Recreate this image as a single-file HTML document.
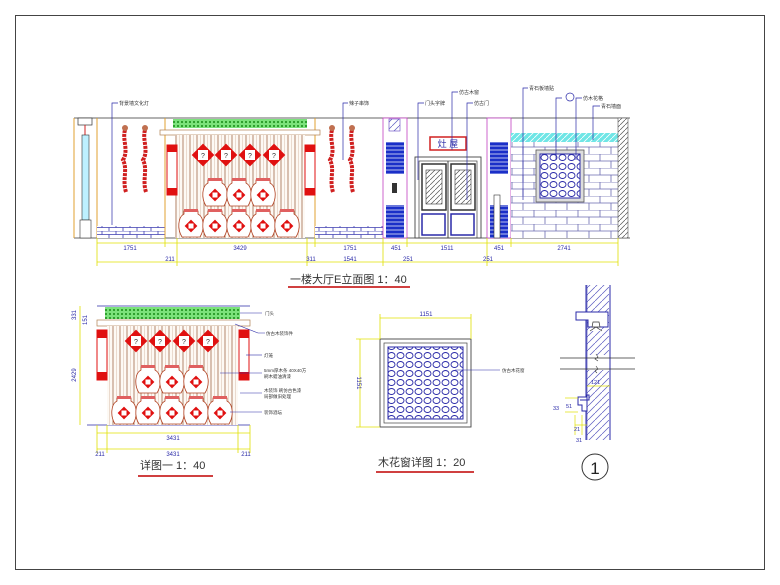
<!DOCTYPE html>
<html><head><meta charset="utf-8"><style>
html,body{margin:0;padding:0;background:#fff}
svg{display:block}
text{font-family:"Liberation Sans","Noto Sans CJK SC",sans-serif}
</style></head><body>
<svg width="780" height="585" viewBox="0 0 780 585" xmlns="http://www.w3.org/2000/svg">
<defs>
<pattern id="brick" width="14" height="7" patternUnits="userSpaceOnUse">
<rect width="14" height="7" fill="#fff"/><path d="M0 0H14M0 3.5H14M4 0V3.5M11 3.5V7" stroke="#3a3ab0" stroke-width="0.8" fill="none"/></pattern>
<pattern id="stone" width="22" height="14" patternUnits="userSpaceOnUse">
<rect width="22" height="14" fill="#fff"/><path d="M0 0H22M0 7H22M6 0V7M17 7V14" stroke="#6a6ab0" stroke-width="0.8" fill="none"/></pattern>
<pattern id="wood" width="7" height="10" patternUnits="userSpaceOnUse">
<rect width="7" height="10" fill="#fdf9f4"/><path d="M1 0V10" stroke="#a0684a" stroke-width="0.8"/><path d="M4.5 0V10" stroke="#d8bca8" stroke-width="0.5"/></pattern>
<pattern id="green" width="4" height="4" patternUnits="userSpaceOnUse">
<rect width="4" height="4" fill="#7be27b"/><rect x="1" y="1" width="2" height="2" fill="#2fa02f"/></pattern>
<pattern id="blue" width="5" height="4" patternUnits="userSpaceOnUse">
<rect width="5" height="4" fill="#1a2fc8"/><path d="M0 2H5" stroke="#fff" stroke-width="0.7"/></pattern>
<pattern id="hatch" width="5" height="5" patternUnits="userSpaceOnUse">
<rect width="5" height="5" fill="#fff"/><path d="M0 5L5 0" stroke="#555" stroke-width="0.7"/></pattern>
<pattern id="hatchb" width="7" height="7" patternUnits="userSpaceOnUse">
<rect width="7" height="7" fill="#fff"/><path d="M0 7L7 0" stroke="#5a5ac0" stroke-width="0.7"/></pattern>
<pattern id="cyan" width="6" height="6" patternUnits="userSpaceOnUse">
<rect width="6" height="6" fill="#6fe6e6"/><path d="M0 6L6 0" stroke="#fff" stroke-width="0.8"/></pattern>
<pattern id="flower" width="9" height="9" patternUnits="userSpaceOnUse">
<rect width="9" height="9" fill="#fff"/><ellipse cx="4.5" cy="4.5" rx="3.5" ry="3" fill="none" stroke="#2a2aa8" stroke-width="0.9"/></pattern>
<g id="chili"><path d="M0 0 C-3 10 4 20 -2 30 C3 40 -3 50 1 62" stroke="#d02020" stroke-width="4" fill="none" stroke-dasharray="3 1"/><circle cx="0" cy="-2" r="3" fill="#c07050"/></g>
<g id="dia"><rect x="-8" y="-8" width="16" height="16" transform="rotate(45)" fill="#e01010"/><rect x="-5" y="-5" width="10" height="10" fill="#fff"/><text x="0" y="3" font-size="7" text-anchor="middle" fill="#333">?</text></g>
<g id="jar"><path d="M-7 -14 H7 V-11 C13 -8 14 4 9 12 H-9 C-14 4 -13 -8 -7 -11Z" fill="#fff" stroke="#b04020" stroke-width="0.8"/><rect x="-7" y="-16" width="14" height="3" fill="#e06060"/><rect x="-4.5" y="-3.5" width="9" height="9" transform="rotate(45 0 1)" fill="#e01010"/><rect x="-2.5" y="-1.5" width="5" height="5" fill="#fff"/></g>
</defs>
<rect width="780" height="585" fill="#fff"/>
<rect x="15.5" y="15.5" width="749" height="554" fill="none" stroke="#444" stroke-width="1"/>

<line x1="74" y1="118" x2="630" y2="118" stroke="#333" stroke-width="0.8"/>
<line x1="74" y1="238" x2="630" y2="238" stroke="#333" stroke-width="0.8"/>
<rect x="78" y="118" width="14" height="7" fill="#fff" stroke="#333" stroke-width="0.7"/>
<line x1="85" y1="125" x2="85" y2="135" stroke="#d02020"/>
<rect x="82" y="135" width="7" height="85" fill="#bdf0ff" stroke="#333" stroke-width="0.6"/>
<rect x="80" y="220" width="11" height="18" fill="#fff" stroke="#333" stroke-width="0.6"/>
<line x1="74" y1="118" x2="74" y2="238" stroke="#e0a030"/>
<line x1="97" y1="118" x2="97" y2="238" stroke="#e0a030"/>
<rect x="97" y="226" width="68" height="12" fill="url(#brick)"/>
<use href="#chili" x="125" y="130"/><use href="#chili" x="145" y="130"/>
<line x1="165" y1="118" x2="165" y2="238" stroke="#e0a030"/>
<line x1="315" y1="118" x2="315" y2="238" stroke="#e0a030"/>
<rect x="173" y="119" width="134" height="9" fill="url(#green)"/>
<rect x="160" y="130" width="160" height="5" fill="#fff" stroke="#b08050" stroke-width="0.7"/>
<rect x="175" y="135" width="130" height="103" fill="url(#wood)"/>
<rect x="167" y="145" width="10" height="50" fill="#fff" stroke="#e01010" stroke-width="1"/>
<rect x="167" y="145" width="10" height="7" fill="#e01010"/><rect x="167" y="188" width="10" height="7" fill="#e01010"/>
<rect x="305" y="145" width="10" height="50" fill="#fff" stroke="#e01010" stroke-width="1"/>
<rect x="305" y="145" width="10" height="7" fill="#e01010"/><rect x="305" y="188" width="10" height="7" fill="#e01010"/>
<use href="#dia" x="203" y="155"/><use href="#dia" x="226" y="155"/><use href="#dia" x="250" y="155"/><use href="#dia" x="274" y="155"/>
<use href="#jar" x="215" y="194"/><use href="#jar" x="239" y="194"/><use href="#jar" x="263" y="194"/>
<use href="#jar" x="191" y="225"/><use href="#jar" x="215" y="225"/><use href="#jar" x="239" y="225"/><use href="#jar" x="263" y="225"/><use href="#jar" x="287" y="225"/>
<rect x="315" y="226" width="68" height="12" fill="url(#brick)"/>
<use href="#chili" x="332" y="130"/><use href="#chili" x="352" y="130"/>
<rect x="383" y="118" width="24" height="120" fill="#fff" stroke="#c040c0" stroke-width="0.8"/>
<rect x="389" y="119" width="11" height="12" fill="url(#hatchb)" stroke="#6040c0" stroke-width="0.6"/>
<rect x="386" y="142" width="18" height="32" fill="url(#blue)"/>
<rect x="386" y="205" width="18" height="33" fill="url(#blue)"/>
<rect x="392" y="183" width="5" height="10" fill="#333"/>
<rect x="487" y="118" width="24" height="120" fill="#fff" stroke="#c040c0" stroke-width="0.8"/>
<rect x="490" y="142" width="18" height="32" fill="url(#blue)"/>
<rect x="490" y="205" width="18" height="33" fill="url(#blue)"/>
<rect x="494" y="195" width="6" height="43" fill="#fff" stroke="#333" stroke-width="0.6"/>
<rect x="430" y="137" width="36" height="13" fill="#fff" stroke="#d02020" stroke-width="1.5"/>
<text x="448" y="147" font-size="9" text-anchor="middle" fill="#2a2aa8">灶 屋</text>
<rect x="415" y="157" width="66" height="81" fill="#fff" stroke="#444" stroke-width="0.9"/>
<rect x="419" y="161" width="58" height="77" fill="none" stroke="#444" stroke-width="0.7"/>
<line x1="448" y1="161" x2="448" y2="238" stroke="#444"/>
<rect x="422" y="164" width="24" height="46" fill="#fff" stroke="#333" stroke-width="1.5"/>
<rect x="451" y="164" width="24" height="46" fill="#fff" stroke="#333" stroke-width="1.5"/>
<rect x="426" y="170" width="16" height="34" fill="url(#hatch)" stroke="#333" stroke-width="0.6"/>
<rect x="455" y="170" width="16" height="34" fill="url(#hatch)" stroke="#333" stroke-width="0.6"/>
<rect x="422" y="214" width="23" height="21" fill="#fff" stroke="#2a2aa8" stroke-width="1.5"/>
<rect x="451" y="214" width="23" height="21" fill="#fff" stroke="#2a2aa8" stroke-width="1.5"/>
<rect x="511" y="133" width="107" height="105" fill="url(#stone)"/>
<rect x="511" y="133" width="108" height="9" fill="url(#cyan)"/>
<rect x="536" y="150" width="48" height="52" fill="#ddd" stroke="#555" stroke-width="0.8"/>
<rect x="540" y="154" width="40" height="44" fill="url(#flower)" stroke="#2a2aa8"/>
<rect x="618" y="118" width="10" height="120" fill="url(#hatch)" stroke="#555" stroke-width="0.6"/>
<g stroke="#2a2aa8" stroke-width="0.7" fill="none">
<path d="M112 225V103H118"/><path d="M343 160V103H348"/><path d="M418 180V103H424"/>
<path d="M452 150V92H458"/><path d="M467 200V103H473"/><path d="M523 200V88H528"/>
<path d="M556 160V98H562"/><path d="M576 160V98H582"/><path d="M593 140V106H600"/>
</g>
<circle cx="570" cy="97" r="4" fill="#fff" stroke="#2a2aa8" stroke-width="0.7"/>
<g font-size="5" fill="#333">
<text x="119" y="105">背景墙文化灯</text><text x="349" y="105">辣子串饰</text><text x="425" y="105">门头字牌</text>
<text x="459" y="94">仿古木窗</text><text x="474" y="105">仿古门</text><text x="529" y="90">青石板墙贴</text>
<text x="583" y="100">仿木花格</text><text x="601" y="108">青石墙面</text>
</g>
<g stroke="#e0e000" stroke-width="0.8">
<line x1="97" y1="243" x2="618" y2="243"/><line x1="97" y1="262" x2="618" y2="262"/>
<line x1="97" y1="238" x2="97" y2="266"/><line x1="165" y1="238" x2="165" y2="247"/><line x1="177" y1="238" x2="177" y2="266"/>
<line x1="307" y1="238" x2="307" y2="266"/><line x1="315" y1="238" x2="315" y2="247"/><line x1="383" y1="238" x2="383" y2="266"/>
<line x1="407" y1="238" x2="407" y2="247"/><line x1="487" y1="238" x2="487" y2="266"/><line x1="511" y1="238" x2="511" y2="247"/><line x1="618" y1="238" x2="618" y2="266"/>
</g>
<g font-size="6" fill="#2a2aa8" text-anchor="middle">
<text x="130" y="250">1751</text><text x="240" y="250">3429</text><text x="350" y="250">1751</text>
<text x="396" y="250">451</text><text x="447" y="250">1511</text><text x="499" y="250">451</text><text x="564" y="250">2741</text>
<text x="170" y="261">211</text><text x="311" y="261">311</text><text x="350" y="261">1541</text>
<text x="408" y="261">251</text><text x="488" y="261">251</text>
</g>
<text x="290" y="283" font-size="11" fill="#333">一楼大厅E立面图 1：40</text>
<line x1="288" y1="287" x2="410" y2="287" stroke="#d04040" stroke-width="2"/>

<line x1="97" y1="306" x2="250" y2="306" stroke="#2a2aa8" stroke-width="0.8"/>
<line x1="87" y1="425" x2="250" y2="425" stroke="#2a2aa8" stroke-width="0.8"/>
<rect x="105" y="307" width="135" height="12" fill="url(#green)"/>
<rect x="97" y="320" width="153" height="6" fill="#fff" stroke="#b08050" stroke-width="0.7"/>
<rect x="107" y="326" width="131" height="99" fill="url(#wood)"/>
<rect x="97" y="330" width="10" height="50" fill="#fff" stroke="#e01010"/>
<rect x="97" y="330" width="10" height="8" fill="#e01010"/><rect x="97" y="372" width="10" height="8" fill="#e01010"/>
<rect x="239" y="330" width="10" height="50" fill="#fff" stroke="#e01010"/>
<rect x="239" y="330" width="10" height="8" fill="#e01010"/><rect x="239" y="372" width="10" height="8" fill="#e01010"/>
<use href="#dia" x="136" y="341"/><use href="#dia" x="160" y="341"/><use href="#dia" x="184" y="341"/><use href="#dia" x="208" y="341"/>
<use href="#jar" x="148" y="381"/><use href="#jar" x="172" y="381"/><use href="#jar" x="196" y="381"/>
<use href="#jar" x="124" y="412"/><use href="#jar" x="148" y="412"/><use href="#jar" x="172" y="412"/><use href="#jar" x="196" y="412"/><use href="#jar" x="220" y="412"/>
<g stroke="#e0e000" stroke-width="0.8">
<line x1="80" y1="306" x2="80" y2="425"/><line x1="97" y1="433" x2="250" y2="433"/><line x1="97" y1="449" x2="250" y2="449"/>
<line x1="97" y1="425" x2="97" y2="453"/><line x1="107" y1="425" x2="107" y2="453"/><line x1="238" y1="425" x2="238" y2="453"/><line x1="250" y1="425" x2="250" y2="453"/>
</g>
<g font-size="6" fill="#2a2aa8" text-anchor="middle">
<text x="173" y="440">3431</text><text x="173" y="456">3431</text><text x="100" y="456">211</text><text x="246" y="456">211</text>
<text x="76" y="315" transform="rotate(-90 76 315)">331</text><text x="87" y="320" transform="rotate(-90 87 320)">151</text><text x="76" y="375" transform="rotate(-90 76 375)">2429</text>
</g>
<g stroke="#2a2aa8" stroke-width="0.6" fill="none">
<path d="M240 313H262"/><path d="M235 324L258 333H265"/><path d="M246 355H262"/><path d="M220 373H262"/><path d="M240 393H262"/><path d="M230 412H262"/>
</g>
<g font-size="4.5" fill="#333">
<text x="265" y="315">门头</text><text x="266" y="335">仿古木装饰件</text><text x="264" y="357">灯笼</text>
<text x="264" y="372">5mm厚木条 40X40方</text><text x="264" y="378">刷木蜡油清漆</text>
<text x="264" y="392">木装饰 刷仿古色漆</text><text x="264" y="398">局部做旧处理</text><text x="264" y="414">装饰酒坛</text>
</g>
<text x="140" y="469" font-size="11" fill="#333">详图一 1：40</text>
<line x1="138" y1="476" x2="213" y2="476" stroke="#d04040" stroke-width="2"/>

<rect x="380" y="339" width="91" height="88" fill="#fff" stroke="#444" stroke-width="0.9"/>
<rect x="384" y="343" width="83" height="80" fill="#fff" stroke="#444" stroke-width="0.7"/>
<rect x="388" y="347" width="75" height="72" fill="url(#flower)" stroke="#2a2aa8" stroke-width="1"/>
<line x1="455" y1="370" x2="500" y2="370" stroke="#2a2aa8" stroke-width="0.6"/>
<text x="502" y="372" font-size="4.5" fill="#333">仿古木花窗</text>
<g stroke="#e0e000" stroke-width="0.8">
<line x1="380" y1="318" x2="471" y2="318"/><line x1="380" y1="314" x2="380" y2="339"/><line x1="471" y1="314" x2="471" y2="339"/>
<line x1="360" y1="339" x2="360" y2="427"/><line x1="356" y1="339" x2="380" y2="339"/><line x1="356" y1="427" x2="380" y2="427"/>
</g>
<text x="426" y="316" font-size="6" fill="#2a2aa8" text-anchor="middle">1151</text>
<text x="357" y="383" font-size="6" fill="#2a2aa8" text-anchor="middle" transform="rotate(90 357 383)">1151</text>
<text x="378" y="466" font-size="11" fill="#333">木花窗详图 1：20</text>
<line x1="376" y1="472" x2="474" y2="472" stroke="#d04040" stroke-width="2"/>

<rect x="587" y="285" width="22" height="70" fill="url(#hatchb)"/>
<rect x="587" y="370" width="22" height="70" fill="url(#hatchb)"/>
<line x1="586" y1="285" x2="586" y2="440" stroke="#2a2aa8"/>
<line x1="610" y1="285" x2="610" y2="440" stroke="#2a2aa8"/>
<line x1="587" y1="285" x2="587" y2="440" stroke="#2a2aa8" stroke-width="0.6"/>
<path d="M576 312H608V327H588V320H576Z" fill="#fff" stroke="#2a2aa8"/>
<path d="M593 322h6l1 5h-8z M590 331l6 -4 6 4" fill="#fff" stroke="#333" stroke-width="0.7"/>
<line x1="560" y1="358" x2="635" y2="358" stroke="#333" stroke-width="0.8"/>
<line x1="560" y1="369" x2="635" y2="369" stroke="#333" stroke-width="0.8"/>
<path d="M596 354l2 3-3 2 3 2M596 366l2 3-3 2 2 2" stroke="#333" fill="none" stroke-width="0.6"/>
<path d="M580 400H589V395H587V400M578 397H587V411H582V405H578Z" fill="#fff" stroke="#2a2aa8"/>
<g stroke="#e0e000" stroke-width="0.7">
<line x1="587" y1="386" x2="610" y2="386"/><line x1="565" y1="398" x2="578" y2="398"/><line x1="565" y1="412" x2="578" y2="412"/>
<line x1="575" y1="425" x2="587" y2="425"/><line x1="575" y1="415" x2="575" y2="435"/><line x1="582" y1="415" x2="582" y2="435"/>
</g>
<g font-size="5.5" fill="#2a2aa8">
<text x="591" y="384">121</text><text x="566" y="408">51</text><text x="553" y="410">33</text><text x="574" y="431">21</text><text x="576" y="442">31</text>
</g>
<circle cx="595" cy="467" r="13" fill="#fff" stroke="#333" stroke-width="1"/>
<text x="595" y="474" font-size="17" text-anchor="middle" fill="#222" font-family="Liberation Serif,serif">1</text>
</svg>
</body></html>
